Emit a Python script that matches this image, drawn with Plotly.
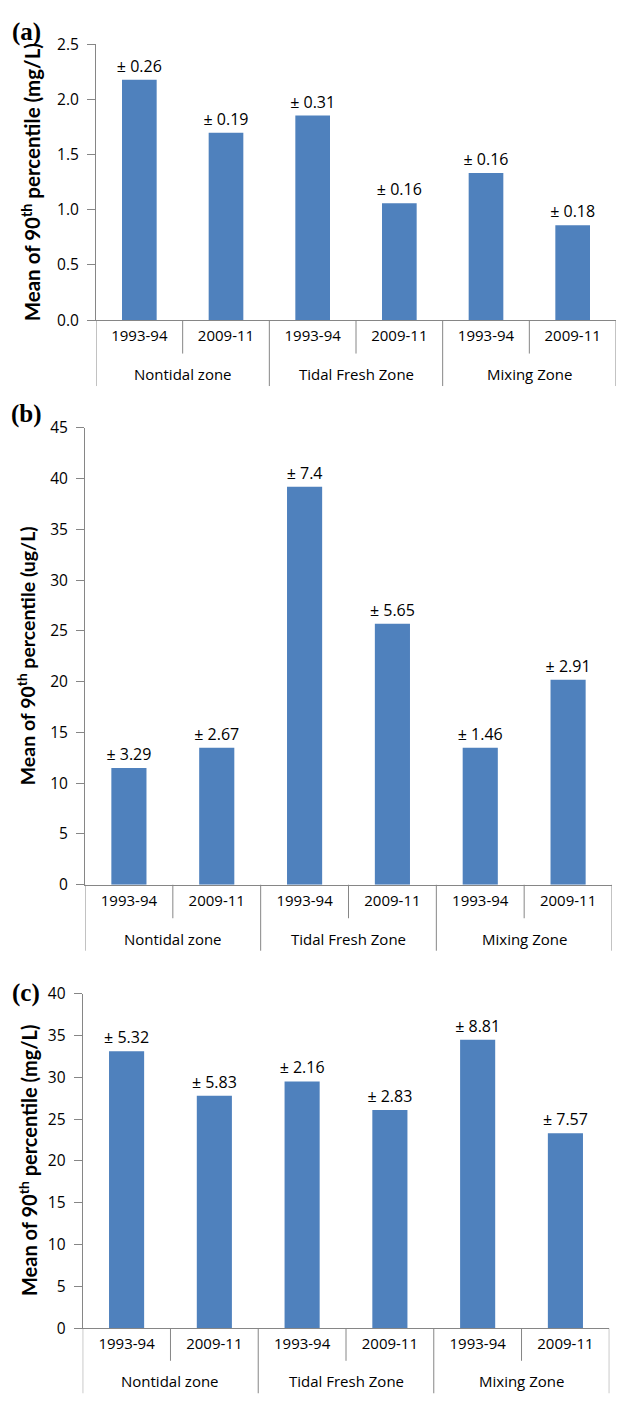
import plotly.graph_objects as go

W, H = 618, 1401

zones = ["Nontidal zone", "Tidal Fresh Zone", "Mixing Zone"]
periods = ["1993-94", "2009-11", "1993-94", "2009-11", "1993-94", "2009-11"]
per_zone = 2

# (a) mg/L
vals_a = [2.18, 1.70, 1.855, 1.06, 1.335, 0.86]
err_a = [0.26, 0.19, 0.31, 0.16, 0.16, 0.18]
# (b) ug/L
vals_b = [11.5, 13.5, 39.2, 25.7, 13.5, 20.2]
err_b = [3.29, 2.67, 7.4, 5.65, 1.46, 2.91]
# (c) mg/L
vals_c = [33.1, 27.8, 29.5, 26.1, 34.5, 23.3]
err_c = [5.32, 5.83, 2.16, 2.83, 8.81, 7.57]

panel_tags = ["(a)", "(b)", "(c)"]
y_titles = ["Mean of 90<sup>th</sup> percentile (mg/L)",
            "Mean of 90<sup>th</sup> percentile (ug/L)",
            "Mean of 90<sup>th</sup> percentile (mg/L)"]
y_ranges = [[0, 2.5], [0, 45], [0, 40]]
y_dticks = [0.5, 5, 5]
y_formats = [".1f", "d", "d"]

# pixel boxes: (left, right, top, bottom) of each plot area
boxes = [(96, 616, 33, 313), (85, 612, 422.4, 886.7), (82.7, 609.3, 997.3, 1337.3)]
tag_pos = [(26, 20), (26, 408), (26, 997)]
title_x = [31, 26, 28]
title_size = [20.5, 19.5, 20]
short_len = [34, 34, 33]
long_len = [67, 67, 66]
zone_shift = [54, 54, 53]

BAR = "#4F81BD"
AXIS = "#868686"
FONT = "Open Sans"
TITLE_FONT = "Lato"

xs = list(range(len(periods)))

fig = go.Figure()
layout = dict(width=W, height=H, margin=dict(l=0, r=0, t=0, b=0),
              paper_bgcolor="white", plot_bgcolor="white", showlegend=False,
              bargap=0.6, annotations=[], shapes=[])

for i, (vals, errs) in enumerate([(vals_a, err_a), (vals_b, err_b), (vals_c, err_c)]):
    n = "" if i == 0 else str(i + 1)
    xr, yr = "x" + n, "y" + n
    fig.add_trace(go.Bar(
        x=xs, y=vals, xaxis=xr, yaxis=yr,
        marker=dict(color=BAR, line=dict(width=0)),
        text=[f"± {e}" for e in errs], textposition="outside",
        constraintext="none",
        textfont=dict(family=FONT, size=16, color="black"),
        cliponaxis=False, hoverinfo="skip",
    ))
    l, r, t, b = boxes[i]
    layout["xaxis" + n] = dict(
        domain=[l / W, r / W], anchor=yr, range=[-0.5, len(xs) - 0.5],
        tickvals=xs, ticktext=periods, ticks="", ticklabelstandoff=2,
        showline=True, linecolor=AXIS, linewidth=1,
        tickfont=dict(family=FONT, size=15, color="black"),
        showgrid=False, zeroline=False, fixedrange=True,
    )
    layout["yaxis" + n] = dict(
        domain=[1 - b / H, 1 - t / H], anchor=xr,
        range=y_ranges[i], dtick=y_dticks[i], tickformat=y_formats[i],
        showline=True, linecolor=AXIS, linewidth=1,
        ticks="outside", ticklen=8, tickcolor=AXIS, ticklabelstandoff=5,
        tickfont=dict(family=FONT, size=15.5, color="black"),
        showgrid=False, zeroline=False, fixedrange=True,
    )
    # category dividers below the axis: short between periods, long between zones
    for k in range(len(xs) + 1):
        edge = k - 0.5
        length = long_len[i] if k % per_zone == 0 else short_len[i]
        layout["shapes"].append(dict(
            type="line", xref=xr, yref="paper",
            x0=edge, x1=edge, y0=1 - b / H, y1=1 - (b + length) / H,
            line=dict(color=AXIS, width=1)))
    for z, name in enumerate(zones):
        layout["annotations"].append(dict(
            text=name, xref=xr, yref=yr, x=z * per_zone + (per_zone - 1) / 2, y=0,
            yshift=-zone_shift[i], showarrow=False,
            font=dict(family=FONT, size=15, color="black"),
            xanchor="center", yanchor="middle"))
    layout["annotations"].append(dict(
        text=y_titles[i], textangle=-90, xref="paper", yref="paper",
        x=title_x[i] / W, y=1 - (t + b) / 2 / H, showarrow=False,
        font=dict(family=TITLE_FONT, size=title_size[i], color="black", weight="bold"),
        xanchor="center", yanchor="middle"))
    tx, ty = tag_pos[i]
    layout["annotations"].append(dict(
        text="<b>" + panel_tags[i] + "</b>", xref="paper", yref="paper",
        x=tx / W, y=1 - ty / H, showarrow=False,
        font=dict(family="Liberation Serif", size=25, color="black"),
        xanchor="center", yanchor="middle"))

fig.update_layout(**layout)
fig.write_html("out.html")
